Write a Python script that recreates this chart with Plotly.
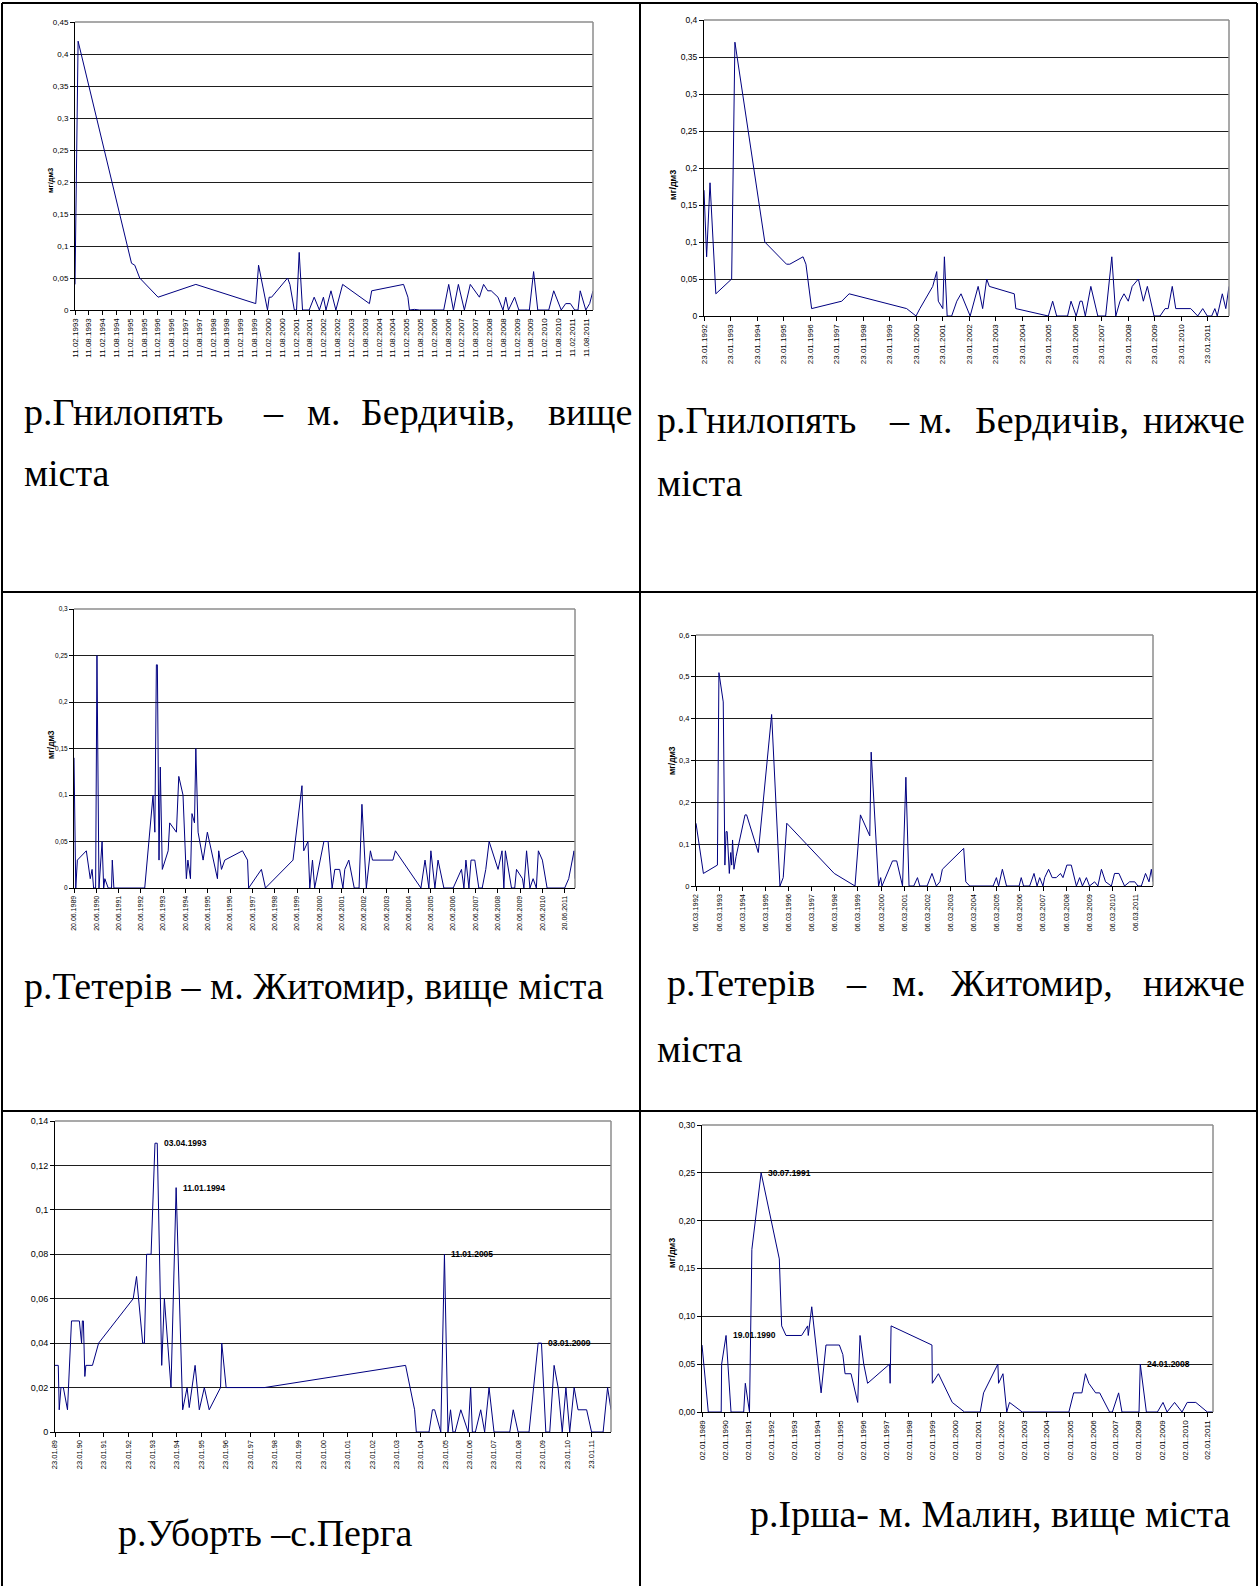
import plotly.graph_objects as go

W, H = 1259, 1586

# --- data (dates, mg/dm3) ---
c1_dates = ["1993-02-11", "1993-03-24", "1995-02-28", "1995-04-12", "1995-06-16", "1996-02-14", "1997-06-27", "1999-08-28", "1999-10-04", "2000-01-30",
            "2000-02-21", "2000-03-24", "2000-10-22", "2000-11-21", "2001-01-19", "2001-02-17", "2001-03-24", "2001-05-07", "2001-08-03", "2001-10-08",
            "2001-12-16", "2002-02-07", "2002-03-13", "2002-05-18", "2002-07-22", "2002-10-19", "2003-10-08", "2003-11-07", "2005-01-01", "2005-02-28",
            "2005-03-20", "2005-05-25", "2005-07-29", "2006-06-16", "2006-08-21", "2006-10-22", "2006-12-27", "2007-03-16", "2007-06-02", "2007-10-01",
            "2007-11-25", "2008-01-19", "2008-03-05", "2008-06-02", "2008-08-07", "2008-09-13", "2008-10-19", "2009-01-08", "2009-03-05", "2009-07-22",
            "2009-09-16", "2009-11-10", "2010-04-04", "2010-06-09", "2010-09-16", "2010-11-14", "2011-01-15", "2011-03-13", "2011-04-26", "2011-05-25",
            "2011-08-07", "2011-09-27", "2011-11-10"]
c1_vals = [0.04, 0.42, 0.073, 0.07, 0.05, 0.02, 0.04, 0.01, 0.07, 0,
           0.02, 0.02, 0.05, 0.04, 0, 0, 0.09, 0, 0, 0.02,
           0, 0.02, 0, 0.03, 0, 0.04, 0.01, 0.03, 0.04, 0.02,
           0, 0.001, 0, 0, 0.04, 0, 0.04, 0, 0.04, 0.02,
           0.04, 0.03, 0.03, 0.02, 0, 0.02, 0, 0.02, 0, 0,
           0.06, 0, 0, 0.03, 0, 0.01, 0.01, 0, 0, 0.03,
           0, 0.01, 0.03]

c2_dates = ["1992-01-23", "1992-02-28", "1992-04-15", "1992-07-04", "1993-02-07", "1993-03-24", "1994-05-10", "1995-03-05", "1995-04-19", "1995-10-19",
            "1995-11-28", "1996-02-14", "1997-04-04", "1997-07-15", "1999-09-16", "2000-01-23", "2000-03-16", "2000-09-09", "2000-11-03", "2000-11-25",
            "2001-01-26", "2001-02-17", "2001-03-27", "2001-05-28", "2001-08-07", "2001-10-04", "2002-02-07", "2002-05-28", "2002-07-29", "2002-09-23",
            "2002-10-29", "2003-10-08", "2003-10-29", "2005-01-19", "2005-03-20", "2005-05-14", "2005-10-11", "2005-11-28", "2006-02-07", "2006-04-01",
            "2006-04-30", "2006-06-13", "2006-08-28", "2006-12-02", "2007-03-20", "2007-06-13", "2007-08-07", "2007-10-04", "2007-11-28", "2008-01-26",
            "2008-03-20", "2008-06-13", "2008-08-21", "2008-10-15", "2009-01-15", "2009-04-08", "2009-06-16", "2009-07-29", "2009-09-23", "2009-11-10",
            "2010-06-05", "2010-09-09", "2010-11-17", "2011-01-19", "2011-03-20", "2011-05-03", "2011-06-05", "2011-08-14", "2011-10-01", "2011-11-14"]
c2_vals = [0.17, 0.08, 0.18, 0.03, 0.05, 0.37, 0.1, 0.07, 0.07, 0.08,
           0.07, 0.01, 0.02, 0.03, 0.01, 0, 0.01, 0.04, 0.06, 0.02,
           0.01, 0.08, 0, 0, 0.02, 0.03, 0, 0.04, 0.01, 0.05,
           0.04, 0.03, 0.01, 0, 0.02, 0, 0, 0.02, 0, 0.02,
           0.02, 0, 0.04, 0, 0, 0.08, 0, 0.02, 0.03, 0.02,
           0.04, 0.05, 0.02, 0.04, 0, 0, 0.01, 0.01, 0.04, 0.01,
           0.01, 0, 0.01, 0, 0, 0.01, 0, 0.03, 0.01, 0.04]

c3_dates = ["1989-06-20", "1989-07-19", "1989-08-14", "1990-01-08", "1990-03-13", "1990-04-12", "1990-05-07", "1990-06-09", "1990-07-01", "1990-08-03",
            "1990-09-23", "1990-10-19", "1990-11-07", "1991-01-01", "1991-02-25", "1991-03-09", "1991-04-04", "1992-08-21", "1993-01-04", "1993-02-03",
            "1993-02-28", "1993-03-16", "1993-04-12", "1993-05-03", "1993-06-05", "1993-09-09", "1993-10-04", "1994-01-22", "1994-03-02", "1994-05-10",
            "1994-07-04", "1994-07-29", "1994-09-09", "1994-10-04", "1994-11-14", "1994-12-06", "1995-01-12", "1995-04-04", "1995-06-13", "1995-11-25",
            "1995-12-16", "1996-01-30", "1996-03-24", "1997-01-08", "1997-04-01", "1997-04-19", "1997-11-14", "1998-01-19", "1999-04-15", "1999-09-09",
            "1999-10-08", "1999-12-16", "2000-01-15", "2000-02-28", "2000-04-04", "2000-09-02", "2000-11-10", "2001-01-15", "2001-02-28", "2001-05-18",
            "2001-07-11", "2001-08-10", "2001-10-15", "2002-01-12", "2002-04-01", "2002-05-18", "2002-07-29", "2002-10-04", "2002-11-07", "2003-10-08",
            "2003-11-17", "2005-01-08", "2005-03-16", "2005-05-18", "2005-06-20", "2005-08-25", "2005-10-15", "2006-01-19", "2006-06-20", "2006-11-03",
            "2006-12-13", "2007-01-15", "2007-03-05", "2007-04-08", "2007-06-09", "2007-08-14", "2007-10-08", "2007-12-06", "2008-01-30", "2008-06-24",
            "2008-08-28", "2008-09-27", "2008-10-22", "2008-12-06", "2009-01-30", "2009-03-24", "2009-04-22", "2009-07-29", "2009-08-21", "2009-10-04",
            "2009-11-28", "2010-01-19", "2010-03-13", "2010-04-15", "2010-06-20", "2010-09-05", "2011-06-20", "2011-08-25", "2011-11-21", "2011-12-06"]
c3_vals = [0.14, 0, 0.03, 0.04, 0.01, 0.02, 0, 0, 0.25, 0,
           0.05, 0, 0.01, 0, 0, 0.03, 0, 0, 0.1, 0.06,
           0.24, 0.24, 0.03, 0.13, 0.02, 0.04, 0.07, 0.06, 0.12, 0.1,
           0.01, 0.03, 0.01, 0.08, 0.07, 0.15, 0.06, 0.03, 0.06, 0.01,
           0.04, 0.02, 0.03, 0.04, 0.03, 0, 0.02, 0, 0.03, 0.11,
           0.04, 0.05, 0, 0.03, 0, 0.05, 0.05, 0, 0.02, 0.02,
           0, 0.02, 0.03, 0, 0, 0.09, 0, 0.04, 0.03, 0.03,
           0.04, 0, 0.03, 0, 0.04, 0, 0.03, 0, 0, 0.02,
           0, 0.03, 0, 0.03, 0.03, 0, 0, 0.02, 0.05, 0.02,
           0.04, 0, 0.04, 0.02, 0, 0, 0.02, 0.01, 0, 0.04,
           0, 0.01, 0, 0.04, 0.03, 0, 0, 0.01, 0.04, 0.01]

c4_dates = ["1992-03-06", "1992-07-01", "1993-02-07", "1993-03-03", "1993-05-10", "1993-06-05", "1993-06-24", "1993-07-11", "1993-08-14", "1993-09-05",
            "1993-09-20", "1993-10-04", "1993-10-26", "1993-11-28", "1994-04-19", "1994-05-14", "1994-11-14", "1995-06-13", "1995-10-22", "1995-12-13",
            "1996-02-07", "1998-02-25", "1999-01-19", "1999-04-15", "1999-09-09", "1999-10-01", "2000-01-26", "2000-02-28", "2000-03-20", "2000-09-02",
            "2000-11-07", "2001-02-07", "2001-04-01", "2001-05-21", "2001-08-03", "2001-10-01", "2001-11-07", "2002-03-02", "2002-05-18", "2002-07-26",
            "2002-09-20", "2002-10-29", "2003-10-01", "2003-11-03", "2004-01-04", "2005-01-08", "2005-02-28", "2005-04-04", "2005-06-02", "2005-08-07",
            "2006-02-21", "2006-03-27", "2006-05-03", "2006-08-07", "2006-10-15", "2006-12-02", "2007-01-12", "2007-03-05", "2007-04-01", "2007-06-02",
            "2007-07-29", "2007-10-01", "2007-12-06", "2008-01-15", "2008-03-16", "2008-05-25", "2008-08-14", "2008-10-04", "2008-11-17", "2009-01-19",
            "2009-03-09", "2009-05-28", "2009-07-19", "2009-09-13", "2009-11-17", "2010-02-17", "2010-04-08", "2010-06-16", "2010-09-13", "2010-12-02",
            "2011-02-21", "2011-04-12", "2011-06-05", "2011-08-10", "2011-10-04", "2011-11-10", "2011-12-06"]
c4_vals = [0.15, 0.03, 0.05, 0.51, 0.44, 0.05, 0.13, 0.13, 0.03, 0.08,
           0.05, 0.11, 0.04, 0.07, 0.17, 0.17, 0.08, 0.41, 0, 0.02,
           0.15, 0.03, 0, 0.17, 0.12, 0.32, 0, 0.02, 0, 0.06,
           0.06, 0, 0.26, 0, 0, 0.02, 0, 0, 0.03, 0,
           0.01, 0.04, 0.09, 0.01, 0, 0, 0.02, 0, 0.04, 0,
           0, 0.02, 0, 0, 0.03, 0, 0.02, 0, 0.02, 0.04,
           0.02, 0.02, 0.03, 0.02, 0.05, 0.05, 0, 0.02, 0, 0.02,
           0, 0.01, 0, 0.04, 0.01, 0, 0.03, 0.03, 0, 0.01,
           0.01, 0, 0, 0.03, 0.01, 0.04, 0.01]

c5_dates = ["1989-01-23", "1989-03-13", "1989-03-27", "1989-04-22", "1989-05-28", "1989-07-29", "1989-09-27", "1990-01-23", "1990-02-25", "1990-03-09",
            "1990-03-24", "1990-04-15", "1990-04-30", "1990-08-07", "1990-11-07", "1992-04-08", "1992-05-28", "1992-08-28", "1992-09-23", "1992-10-26",
            "1993-01-01", "1993-02-28", "1993-04-03", "1993-06-09", "1993-07-19", "1993-10-26", "1994-01-11", "1994-04-19", "1994-06-24", "1994-07-26",
            "1994-10-22", "1994-12-24", "1995-03-09", "1995-05-21", "1995-11-07", "1995-11-25", "1996-01-30", "1997-08-25", "2003-06-09", "2003-10-22",
            "2003-11-17", "2004-05-25", "2004-07-15", "2004-08-17", "2004-11-17", "2005-01-06", "2005-01-11", "2005-03-05", "2005-04-12", "2005-05-18",
            "2005-06-20", "2005-09-13", "2006-01-01", "2006-02-07", "2006-03-05", "2006-04-19", "2006-07-08", "2006-09-05", "2006-11-10", "2007-01-23",
            "2007-09-16", "2007-11-07", "2008-01-19", "2008-07-01", "2008-11-14", "2009-01-03", "2009-03-09", "2009-05-07", "2009-07-11", "2009-09-09",
            "2009-11-10", "2010-01-04", "2010-03-02", "2010-05-07", "2010-07-04", "2010-11-10", "2011-01-23", "2011-07-15", "2011-09-20", "2011-11-10"]
c5_vals = [0.03, 0.03, 0.01, 0.02, 0.02, 0.01, 0.05, 0.05, 0.04, 0.05,
           0.05, 0.025, 0.03, 0.03, 0.04, 0.06, 0.07, 0.04, 0.04, 0.08,
           0.08, 0.13, 0.13, 0.03, 0.06, 0.02, 0.11, 0.01, 0.02, 0.011,
           0.03, 0.01, 0.02, 0.01, 0.02, 0.04, 0.02, 0.02, 0.03, 0.01,
           0, 0, 0.01, 0.01, 0, 0.08, 0.08, 0, 0.01, 0,
           0, 0.01, 0, 0.02, 0, 0, 0.01, 0, 0.02, 0,
           0, 0.01, 0, 0, 0.04, 0.04, 0, 0, 0.03, 0.02,
           0, 0.02, 0, 0.02, 0.01, 0.01, 0, 0, 0.02, 0.01]
c5_marks = ["1993-04-03", "1994-01-11", "2005-01-11", "2009-01-03"]
c5_mark_vals = [0.13, 0.11, 0.08, 0.04]
c5_mark_text = ["03.04.1993", "11.01.1994", "11.01.2005", "03.01.2009"]

c6_dates = ["1989-01-02", "1989-04-12", "1989-11-03", "1989-11-10", "1990-01-19", "1990-04-08", "1990-10-26", "1990-11-21", "1991-01-26", "1991-03-05",
            "1991-07-30", "1992-05-14", "1992-06-20", "1992-08-28", "1993-05-03", "1993-08-07", "1993-08-17", "1993-10-11", "1994-03-09", "1994-05-25",
            "1994-12-24", "1995-02-17", "1995-03-24", "1995-06-27", "1995-10-11", "1995-11-17", "1996-01-15", "1996-03-16", "1997-02-28", "1997-03-09",
            "1997-03-24", "1999-01-02", "1999-01-08", "1999-04-15", "1999-11-21", "2000-06-02", "2001-02-07", "2001-04-01", "2001-11-14", "2001-11-25",
            "2002-02-03", "2002-04-04", "2002-05-18", "2002-12-06", "2004-12-16", "2005-03-02", "2005-07-11", "2005-09-05", "2005-10-29", "2006-02-14",
            "2006-04-19", "2006-09-23", "2006-11-07", "2007-02-14", "2007-04-08", "2008-01-04", "2008-01-24", "2008-04-30", "2008-10-22", "2009-01-19",
            "2009-03-24", "2009-07-22", "2009-11-17", "2010-02-07", "2010-06-24", "2010-12-24", "2011-03-24"]
c6_vals = [0.07, 0, 0, 0.05, 0.08, 0, 0, 0.03, 0, 0.17,
           0.25, 0.16, 0.09, 0.08, 0.08, 0.09, 0.08, 0.11, 0.02, 0.07,
           0.07, 0.06, 0.04, 0.04, 0.01, 0.08, 0.05, 0.03, 0.05, 0.03,
           0.09, 0.07, 0.03, 0.04, 0.01, 0, 0, 0.02, 0.05, 0.03,
           0.04, 0, 0.01, 0, 0, 0.02, 0.02, 0.04, 0.03, 0.02,
           0.02, 0, 0, 0.02, 0, 0, 0.05, 0, 0, 0.01,
           0, 0.01, 0, 0.01, 0.01, 0, 0]
c6_marks = ["1991-07-30", "1990-01-19", "2008-01-24"]
c6_mark_vals = [0.25, 0.08, 0.05]
c6_mark_text = ["30.07.1991", "19.01.1990", "24.01.2008"]

unit = "мг/дм3"
SANS = "Liberation Sans, Arial, sans-serif"
SERIF = "Liberation Serif, Times New Roman, serif"


def px(x):
    return x / W


def py(y):
    return 1 - y / H


# box = plot area in pixels (left, top, right, bottom)
charts = [
    dict(x=c1_dates, y=c1_vals, box=(75, 22, 593, 310), ymax=0.45, dy=0.05, dt="M6", fmt="%d.%m.%Y", yfmt="",
         xf=8, yf=8, title=(44, 166, 7.5)),
    dict(x=c2_dates, y=c2_vals, box=(704, 20, 1229, 316), ymax=0.4, dy=0.05, dt="M12", fmt="%d.%m.%Y", yfmt="",
         xf=8, yf=8.5, title=(673, 168, 9)),
    dict(x=c3_dates, y=c3_vals, box=(74, 609, 575, 888), ymax=0.3, dy=0.05, dt="M12", fmt="%d.%m.%Y", yfmt="",
         xf=7, yf=6.5, title=(44, 745, 8.5)),
    dict(x=c4_dates, y=c4_vals, box=(696, 635, 1153, 886), ymax=0.6, dy=0.1, dt="M12", fmt="%d.%m.%Y", yfmt="",
         xf=7.5, yf=7.5, title=(672, 760, 8.5)),
    dict(x=c5_dates, y=c5_vals, box=(55, 1121, 611, 1432), ymax=0.14, dy=0.02, dt="M12", fmt="%d.%m.%y", yfmt="",
         xf=7.5, yf=9, title=None),
    dict(x=c6_dates, y=c6_vals, box=(702, 1125, 1213, 1412), ymax=0.3, dy=0.05, dt="M12", fmt="%d.%m.%Y", yfmt=".2f",
         xf=8, yf=8.5, title=(672, 1270, 9)),
]

fig = go.Figure()
shapes = []
annotations = []
layout = {}

for i, c in enumerate(charts, start=1):
    sfx = "" if i == 1 else str(i)
    l, t, r, b = c["box"]
    fig.add_trace(go.Scatter(x=c["x"], y=c["y"], mode="lines", line=dict(color="#000080", width=1),
                             xaxis="x" + sfx, yaxis="y" + sfx, showlegend=False, hoverinfo="skip"))
    layout["xaxis" + sfx] = dict(
        domain=[px(l), px(r)], anchor="y" + sfx, type="date", range=[c["x"][0], c["x"][-1]],
        tick0=c["x"][0], dtick=c["dt"], tickformat=c["fmt"], tickangle=-90,
        ticks="outside", ticklen=4, tickcolor="black", showgrid=False, zeroline=False,
        showline=True, linecolor="black", linewidth=1, automargin=False,
        tickfont=dict(family=SANS, size=c["xf"], color="black"))
    layout["yaxis" + sfx] = dict(
        domain=[py(b), py(t)], anchor="x" + sfx, range=[0, c["ymax"]], tick0=0, dtick=c["dy"],
        tickformat=c["yfmt"], ticks="outside", ticklen=4, tickcolor="black",
        showgrid=True, gridcolor="#1e1e1e", gridwidth=1, zeroline=False,
        showline=True, linecolor="black", linewidth=1, automargin=False,
        tickfont=dict(family=SANS, size=c["yf"], color="black"))
    # grey frame on top and right of the plot area
    dref = ("x" + sfx + " domain", "y" + sfx + " domain")
    shapes.append(dict(type="line", xref=dref[0], yref=dref[1], x0=0, x1=1, y0=1, y1=1,
                       line=dict(color="#8c8c8c", width=1.5), layer="above"))
    shapes.append(dict(type="line", xref=dref[0], yref=dref[1], x0=1, x1=1, y0=0, y1=1,
                       line=dict(color="#8c8c8c", width=1.5), layer="above"))
    if c["title"]:
        tx, ty, ts = c["title"]
        annotations.append(dict(text=unit, x=px(tx), y=py(ty), xref="paper", yref="paper", showarrow=False,
                                textangle=-90, font=dict(family=SANS, size=ts, color="black", weight="bold")))

for dates, vals, texts, sfx in [(c5_marks, c5_mark_vals, c5_mark_text, "5"),
                                (c6_marks, c6_mark_vals, c6_mark_text, "6")]:
    for d, v, s in zip(dates, vals, texts):
        annotations.append(dict(text=s, x=d, y=v, xref="x" + sfx, yref="y" + sfx, showarrow=False,
                                xanchor="left", yanchor="middle", xshift=5,
                                font=dict(family=SANS, size=8.5, color="black", weight="bold")))

# table grid
for x0, y0, x1, y1 in [(2, 3, 1257, 3), (2, 3, 2, H), (1257, 3, 1257, H), (640, 3, 640, H),
                       (2, 592, 1257, 592), (2, 1111, 1257, 1111)]:
    shapes.append(dict(type="line", xref="paper", yref="paper", x0=px(x0), x1=px(x1), y0=py(y0), y1=py(y1),
                       line=dict(color="black", width=2)))

# captions (justified lines are placed word by word)
captions = [
    ("р.Гнилопять", 22, 412), ("–", 261, 412), ("м.", 305, 412), ("Бердичів,", 359, 412), ("вище", 546, 412),
    ("міста", 22, 473),
    ("р.Гнилопять", 655, 420), ("–", 887, 420), ("м.", 917, 420), ("Бердичів,", 973, 420), ("нижче", 1141, 420),
    ("міста", 655, 483),
    ("р.Тетерів – м. Житомир, вище міста", 22, 986),
    ("р.Тетерів", 665, 983), ("–", 844, 983), ("м.", 890, 983), ("Житомир,", 949, 983), ("нижче", 1141, 983),
    ("міста", 655, 1049),
    ("р.Уборть –с.Перга", 116, 1533),
    ("р.Ірша- м. Малин, вище міста", 748, 1514),
]
for s, x, y in captions:
    annotations.append(dict(text=s, x=px(x), y=py(y), xref="paper", yref="paper", showarrow=False,
                            xanchor="left", yanchor="middle", font=dict(family=SERIF, size=38, color="black")))

fig.update_layout(width=W, height=H, autosize=False, margin=dict(l=0, r=0, t=0, b=0),
                  paper_bgcolor="white", plot_bgcolor="white", separators=", ",
                  shapes=shapes, annotations=annotations, **layout)

# page body has a default margin; drop it so the figure sits at the window's corner
fig.write_html("out.html", config={"displayModeBar": False},
               post_script="document.body.style.margin='0';")
